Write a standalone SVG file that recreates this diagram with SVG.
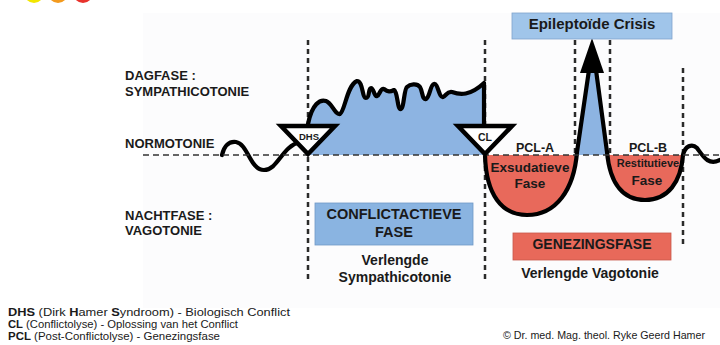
<svg xmlns="http://www.w3.org/2000/svg" width="720" height="345" viewBox="0 0 720 345">
<defs>
<style>
text{font-family:"Liberation Sans",Arial,sans-serif;fill:#1a1a1a}
.b{font-weight:bold}
.dot{stroke:#2a2a2a;stroke-width:2.5;stroke-dasharray:5 4;fill:none}
.base{stroke:#333;stroke-width:1.6;stroke-dasharray:6 4;fill:none}
.ln{stroke:#000;stroke-width:4.2;fill:none;stroke-linejoin:round;stroke-linecap:round}
.tri{fill:#fff;stroke:#000;stroke-width:4.5;stroke-linejoin:miter}
.blue{fill:#8db4e2}
.red{fill:#e8695b}
</style>
</defs>
<rect width="720" height="345" fill="#fff"/>
<rect x="143" y="13" width="577" height="295" fill="#fcfcfd"/>
<g id="dots">
<circle cx="34" cy="-7" r="10" fill="#f2e600"/>
<circle cx="58" cy="-7" r="10" fill="#f39a1e"/>
<circle cx="83" cy="-7" r="10" fill="#e8322c"/>
</g>
<g id="connectors">
<line class="dot" x1="308" y1="40" x2="308" y2="280"/>
<line class="dot" x1="485" y1="40" x2="485" y2="280"/>
<line class="dot" x1="575" y1="40" x2="575" y2="155"/>
<line class="dot" x1="610" y1="40" x2="610" y2="155"/>
<line class="dot" x1="683" y1="68" x2="683" y2="247"/>
<path class="blue" d="M308,155 L308,122 C312,104 320,99 326,101 C332,103 335,115 340,114 C345,111 347,85 357,81 C363,81 362,98 366,98 C370,98 368,88 371,88 C374,88 374,97 377,96 C380,95 380,88 384,89 C388,92 390,92 394,90 C398,92 397,110 401,109 C404,108 404,89 407,87 C410,84 417,83 420,87 C423,92 422,100 426,99 C430,97 430,85 434,84 C438,83 439,98 443,97 C446,96 447,91 452,92 C460,95 470,96 484,83 L484,155 Z"/>
<path class="blue" d="M577,155 L589,70 L596,70 L607,155 Z"/>
<path class="red" d="M485,155 C486,195 502,215 527,215 C556,215 574,190 577,155 Z"/>
<path class="red" d="M607,155 C610,185 624,200 645,200 C668,200 681,182 683,155 Z"/>
<path class="ln" d="M222,155 C224,146 229,141 236,142 C248,144 250,170 264,170 C278,170 282,146 300,142"/>
<path class="ln" d="M308,124 C312,104 320,99 326,101 C332,103 335,115 340,114 C345,111 347,85 357,81 C363,81 362,98 366,98 C370,98 368,88 371,88 C374,88 374,97 377,96 C380,95 380,88 384,89 C388,92 390,92 394,90 C398,92 397,110 401,109 C404,108 404,89 407,87 C410,84 417,83 420,87 C423,92 422,100 426,99 C430,97 430,85 434,84 C438,83 439,98 443,97 C446,96 447,91 452,92 C460,95 470,96 484,83 L484,128"/>
<path class="ln" d="M485,155 C486,195 502,215 527,215 C556,215 574,190 577,152 L589,70"/>
<path class="ln" d="M596,70 L607,152 C610,185 624,200 645,200 C668,200 681,182 683,155 C685,146 692,143 697,148 C703,156 708,166 720,160"/>
<polygon points="592,38 580,73 604,73" fill="#000"/>
<line class="base" x1="143" y1="155" x2="720" y2="155"/>
</g>
<g id="dhs">
<polygon class="tri" points="281,126 335,126 308,154"/>
<text class="b" x="309" y="140" font-size="9.5" text-anchor="middle">DHS</text>
</g>
<g id="cl">
<polygon class="tri" points="458,126 512,126 485,154"/>
<text class="b" x="485" y="141" font-size="10.5" text-anchor="middle">CL</text>
</g>
<g id="labels-left">
<text class="b" x="125" y="80" font-size="13">DAGFASE :</text>
<text class="b" x="125" y="96" font-size="13">SYMPATHICOTONIE</text>
<text class="b" x="125" y="148" font-size="13">NORMOTONIE</text>
<text class="b" x="125" y="220" font-size="13">NACHTFASE :</text>
<text class="b" x="125" y="235" font-size="13">VAGOTONIE</text>
</g>
<g id="pcl-a">
<text class="b" x="535" y="152" font-size="12.5" text-anchor="middle">PCL-A</text>
<text class="b" x="530" y="172" font-size="13.5" text-anchor="middle">Exsudatieve</text>
<text class="b" x="530" y="188" font-size="13.5" text-anchor="middle">Fase</text>
</g>
<g id="pcl-b">
<text class="b" x="648" y="152" font-size="12.5" text-anchor="middle">PCL-B</text>
<text class="b" x="648" y="167" font-size="11" text-anchor="middle">Restitutieve</text>
<text class="b" x="647" y="185" font-size="13.5" text-anchor="middle">Fase</text>
</g>
<g id="crisis">
<rect x="512" y="13" width="160" height="26" fill="#a0c5ea" stroke="#7fa4cc" stroke-width="0.8"/>
<text class="b" x="592" y="28.5" font-size="15" text-anchor="middle">Epileptoïde Crisis</text>
</g>
<g id="conflictactieve">
<rect x="315" y="203" width="158" height="42" fill="#8ab4e1" stroke="#6f98c6" stroke-width="0.8"/>
<text class="b" x="394" y="219" font-size="14.5" text-anchor="middle">CONFLICTACTIEVE</text>
<text class="b" x="394" y="237" font-size="14.5" text-anchor="middle">FASE</text>
<text class="b" x="395" y="265" font-size="14" text-anchor="middle" fill="#222">Verlengde</text>
<text class="b" x="395" y="282" font-size="14" text-anchor="middle" fill="#222">Sympathicotonie</text>
</g>
<g id="genezingsfase">
<rect x="513" y="233" width="158" height="27" fill="#e8695a" stroke="#c9574a" stroke-width="0.8"/>
<text class="b" x="592" y="249" font-size="14" text-anchor="middle">GENEZINGSFASE</text>
<text class="b" x="590" y="278" font-size="14" text-anchor="middle" fill="#222">Verlengde Vagotonie</text>
</g>
<g id="legend">
<text x="8" y="316" font-size="10.3" textLength="282" lengthAdjust="spacingAndGlyphs"><tspan class="b">DHS</tspan> (Dirk <tspan class="b">H</tspan>amer <tspan class="b">S</tspan>yndroom) - Biologisch Conflict</text>
<text x="8" y="328" font-size="10.3" textLength="230" lengthAdjust="spacingAndGlyphs"><tspan class="b">CL</tspan> (Conflictolyse) - Oplossing van het Conflict</text>
<text x="8" y="340" font-size="10.3" textLength="212" lengthAdjust="spacingAndGlyphs"><tspan class="b">PCL</tspan> (Post-Conflictolyse) - Genezingsfase</text>
<text x="503" y="339" font-size="10.5" textLength="202" lengthAdjust="spacingAndGlyphs">© Dr. med. Mag. theol. Ryke Geerd Hamer</text>
</g>
</svg>
